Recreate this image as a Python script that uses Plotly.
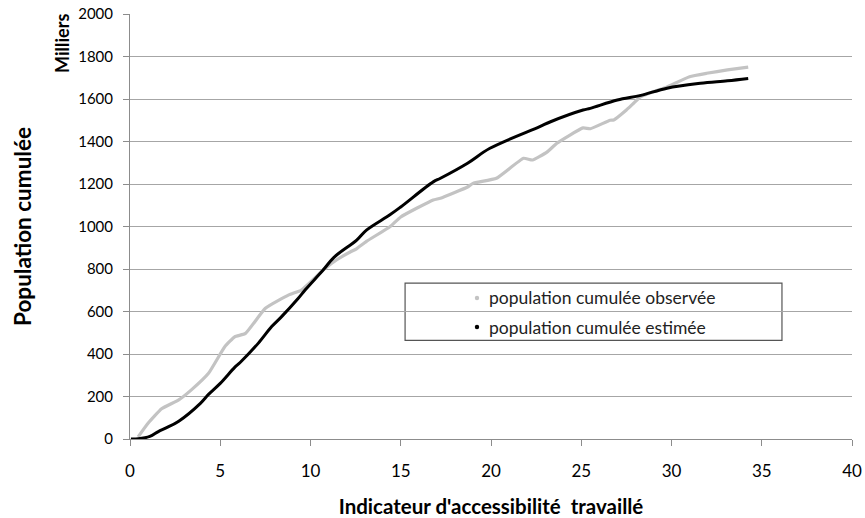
import plotly.graph_objects as go

obs_x = [0.45, 1.0, 1.75, 2.7, 3.4, 4.35, 5.25, 5.8, 6.4, 7.5, 8.8, 9.5, 10.7, 11.3, 12.2, 12.55, 13.1, 14.4, 15.0,
         16.8, 17.2, 18.7, 19.0, 20.3, 21.8, 22.3, 23.1, 23.65, 25.1, 25.5, 26.6, 26.8, 27.5, 27.9, 28.3, 29.75,
         31.0, 31.95, 33.1, 34.25]
obs_y = [10, 74, 142, 184, 231, 309, 434, 481, 497, 615, 678, 701, 795, 835, 880, 895, 930, 999, 1045,
         1125, 1133, 1186, 1203, 1227, 1321, 1313, 1350, 1392, 1464, 1460, 1500, 1501, 1548, 1580, 1611, 1657,
         1705, 1721, 1737, 1750]

est_x = [0.05, 0.45, 1.1, 1.57, 2.0, 2.7, 3.9, 4.35, 5.0, 5.8, 6.1, 7.1, 7.85, 8.4, 9.3, 9.7, 10.7, 11.3,
         12.56, 13.1, 14.4, 15.0, 16.8, 17.2, 18.7, 19.94, 22.7, 23.3, 25.1, 25.5, 27.0, 28.3, 29.75, 31.6,
         33.1, 34.25]
est_y = [0, 1, 12, 35, 52, 84, 168, 210, 262, 337, 360, 450, 529, 576, 660, 701, 795, 855,
         936, 983, 1055, 1092, 1210, 1227, 1298, 1368, 1470, 1493, 1548, 1556, 1595, 1617, 1651, 1674,
         1686, 1697]

x_ticks = [0, 5, 10, 15, 20, 25, 30, 35, 40]
y_ticks = [0, 200, 400, 600, 800, 1000, 1200, 1400, 1600, 1800, 2000]

names = ["population cumulée observée", "population cumulée estimée"]
colors = ["#c3c3c3", "#000000"]

FONT = "Lato, 'Liberation Sans', sans-serif"

fig = go.Figure()
fig.add_trace(go.Scatter(x=obs_x, y=obs_y, mode="lines",
                         line=dict(color=colors[0], width=3.2, shape="spline", smoothing=0.4),
                         name=names[0], showlegend=False, hoverinfo="skip"))
fig.add_trace(go.Scatter(x=est_x, y=est_y, mode="lines",
                         line=dict(color=colors[1], width=3, shape="spline", smoothing=1.0),
                         name=names[1], showlegend=False, hoverinfo="skip"))

# legend box (drawn manually to match the reference layout)
fig.add_shape(type="rect", xref="paper", yref="paper", x0=0.381, x1=0.903, y0=0.232, y1=0.367,
              line=dict(color="#555555", width=1.2), fillcolor="white", layer="below")
leg_y = [0.3318, 0.2635]
dx, dy = 2.2 / 722, 2.2 / 425
for n, c, yy in zip(names, colors, leg_y):
    fig.add_shape(type="circle", xref="paper", yref="paper", x0=0.4806 - dx, x1=0.4806 + dx,
                  y0=yy - dy, y1=yy + dy, fillcolor=c, line=dict(width=0))
    fig.add_annotation(text=n, xref="paper", yref="paper", x=0.4945, y=yy, xanchor="left",
                       yanchor="middle", showarrow=False, font=dict(size=17.5, color="#222", family=FONT))

fig.add_annotation(text="<b>Milliers</b>", xref="paper", yref="paper", x=-0.094, y=0.93,
                   textangle=-90, showarrow=False, font=dict(size=18, color="#000", family=FONT),
                   xanchor="center", yanchor="middle")

fig.update_layout(
    width=865, height=518,
    margin=dict(l=130, r=13, t=14, b=79),
    paper_bgcolor="white", plot_bgcolor="white",
    font=dict(family=FONT, size=15, color="#000"),
    showlegend=False,
    xaxis=dict(range=[0, 40], tickvals=x_ticks, showgrid=False, zeroline=False, automargin=False,
               showline=True, linecolor="#8c8c8c", linewidth=1,
               ticks="outside", ticklen=6, tickcolor="#8c8c8c", ticklabelstandoff=11,
               tickfont=dict(size=17), ticklabeloverflow="allow",
               title=dict(text="<b>Indicateur d'accessibilité  travaillé</b>",
                          font=dict(size=20.5), standoff=20)),
    yaxis=dict(range=[0, 2000], tickvals=y_ticks, showgrid=True, gridcolor="#a6a6a6", gridwidth=1,
               zeroline=False, showline=True, linecolor="#8c8c8c", linewidth=1, automargin=False,
               ticks="outside", ticklen=6, tickcolor="#8c8c8c", tickfont=dict(size=15),
               ticklabelstandoff=7, ticklabeloverflow="allow",
               title=dict(text="<b>Population cumulée</b>", font=dict(size=22.5), standoff=40)),
)

# remove the default 8px page margin so the figure fills the window exactly
fig.write_html("out.html", config={"displayModeBar": False},
               post_script="document.body.style.margin='0';document.body.style.overflow='hidden';")
